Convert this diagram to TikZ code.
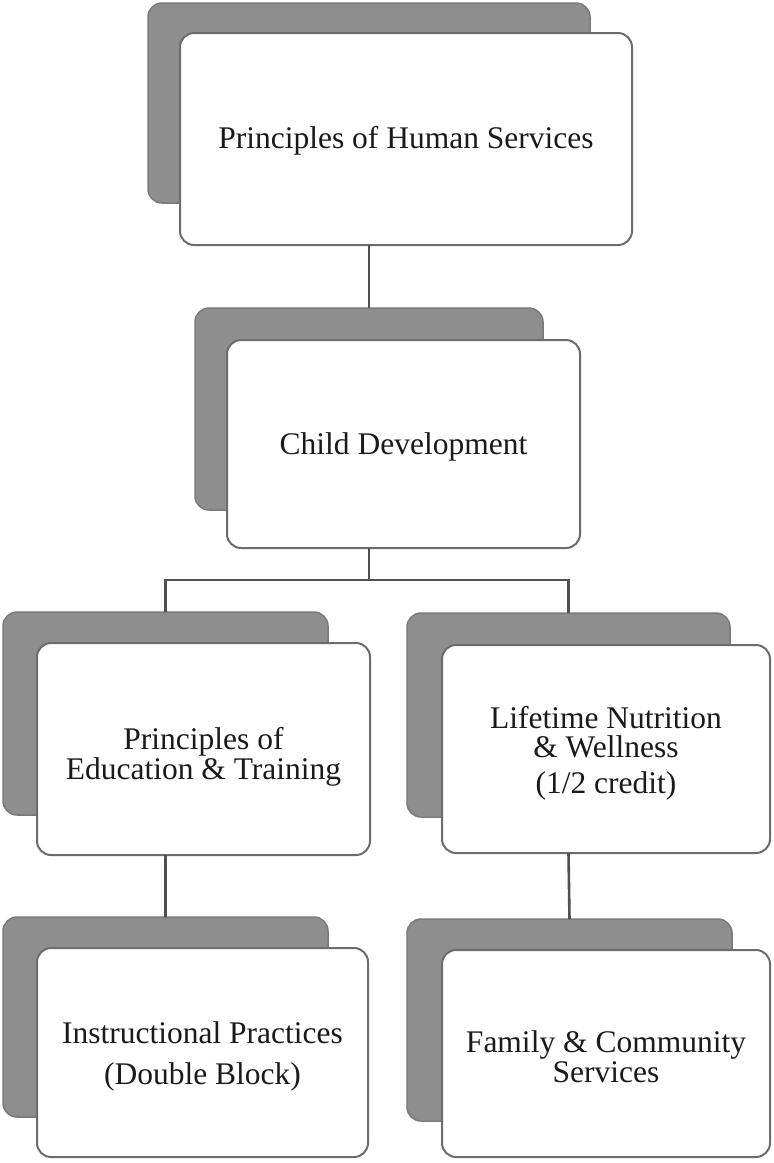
\documentclass[tikz,border=0pt]{standalone}
\usepackage{fontspec}
\setmainfont{Liberation Serif}
\begin{document}
\begin{tikzpicture}[x=1pt,y=-1pt,
  backbox/.style={rectangle, rounded corners=14pt, fill=backgray, draw=backedge, line width=1.5pt, inner sep=0pt, outer sep=0pt},
  frontbox/.style={rectangle, rounded corners=14pt, fill=white, draw=frontedge, line width=2pt, inner sep=0pt, outer sep=0pt},
  boxtext/.style={align=center, inner sep=0pt, font=\fontsize{31.5}{29.5}\selectfont, text=textcol},
  conn/.style={draw=conncol, line width=2.6pt}]
\definecolor{backgray}{HTML}{8E8E8E}
\definecolor{backedge}{HTML}{7A7A7A}
\definecolor{frontedge}{HTML}{6C6C6C}
\definecolor{conncol}{HTML}{505050}
\definecolor{textcol}{HTML}{1A1A1A}
\fill[white] (0,0) rectangle (774,1163);
\useasboundingbox (0,0) rectangle (774,1163);

% top
\node[backbox, minimum width=442pt, minimum height=200pt] (topback) at (369,103) {};
\node[frontbox, minimum width=452pt, minimum height=212pt] (topfront) at (406,139) {};
\node[boxtext, yshift=-2pt] (toptext) at (topfront.center) {Principles of Human Services};
% child development
\node[backbox, minimum width=348pt, minimum height=202pt] (childback) at (369,409) {};
\node[frontbox, minimum width=353pt, minimum height=208pt] (childfront) at (403.5,444) {};
\node[boxtext, yshift=-3pt] (childtext) at (childfront.center) {Child Development};
% education
\node[backbox, minimum width=325pt, minimum height=203pt] (educback) at (165.5,713.5) {};
\node[frontbox, minimum width=333pt, minimum height=212pt] (educfront) at (203.5,749) {};
\node[boxtext, yshift=-8pt] (eductext) at (educfront.center) {Principles of\\Education \& Training};
% lifetime
\node[backbox, minimum width=323pt, minimum height=204pt] (lifeback) at (568.5,715) {};
\node[frontbox, minimum width=328pt, minimum height=208pt] (lifefront) at (606,749) {};
\node[boxtext, yshift=-4pt] (lifetext) at (lifefront.center) {Lifetime Nutrition\\\& Wellness\\[6pt](1/2 credit)};
% instructional
\node[backbox, minimum width=325pt, minimum height=200pt] (instrback) at (165.5,1017) {};
\node[frontbox, minimum width=331pt, minimum height=209pt] (instrfront) at (202.5,1052.5) {};
\node[boxtext, yshift=-4pt] (instrtext) at (instrfront.center) {Instructional Practices\\[11pt](Double Block)};
% family
\node[backbox, minimum width=325pt, minimum height=202pt] (famback) at (569.5,1020) {};
\node[frontbox, minimum width=328pt, minimum height=207pt] (famfront) at (606,1053.5) {};
\node[boxtext, yshift=-3pt] (famtext) at (famfront.center) {Family \& Community\\Services};

% connectors
\coordinate (bus) at (369,580);
\draw[conn] (topback.center |- topfront.south) -- (childback.north);
\draw[conn] (childback.center |- childfront.south) -- (bus);
\draw[conn] (educback.north) |- (bus) -| (lifeback.north);
\draw[conn] (educback.center |- educfront.south) -- (instrback.north);
\draw[conn] (lifeback.center |- lifefront.south) -- (famback.north);
\end{tikzpicture}
\end{document}
